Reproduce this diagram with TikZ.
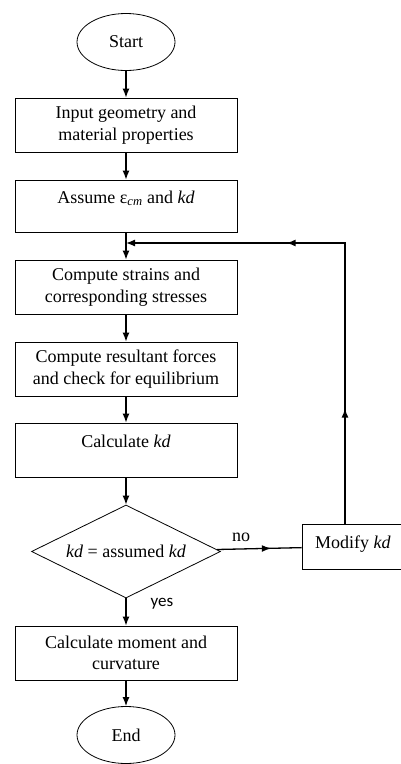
\documentclass[tikz,border=0pt]{standalone}
\usepackage{fontspec}
\setmainfont{Liberation Serif}
\newfontfamily\answerfont{Carlito}
\usetikzlibrary{arrows.meta,shapes.geometric,decorations.markings}
\tikzset{>={Latex[length=9pt,width=7pt]}}

\begin{document}
\begin{tikzpicture}[x=1pt,y=-1pt,
   every node/.style={font=\fontsize{18}{21.5}\selectfont},
   box/.style={draw,line width=0.8pt,minimum width=222pt,minimum height=54pt,align=center,inner sep=2pt},
   topbox/.style={box,text height=12pt,text depth=18pt},
   term/.style={draw,ellipse,line width=0.8pt,minimum width=98pt,minimum height=57pt,inner sep=0pt},
   test/.style={draw,diamond,aspect=2,line width=0.8pt,minimum width=189pt,minimum height=93pt,inner sep=0pt},
   flow/.style={->,line width=1.3pt},
   midarrow/.style={postaction=decorate,decoration={markings,mark=at position #1 with {\arrow{>}}}},
   looparrows/.style={postaction=decorate,decoration={markings,
      mark=at position 115pt with {\arrow{>}},
      mark=at position 339pt with {\arrow{>}}}},
]
\useasboundingbox (0,0) rectangle (401,764);

\node[term] (start) at (126,42) {Start};
\node[box] (input) at (126,125) {Input geometry and\\material properties};
\node[topbox,minimum height=52pt] (assume) at (126,206) {Assume ε\textsubscript{\textit{cm}} and \textit{kd}};
\node[box] (strain) at (126,287) {Compute strains and\\corresponding stresses};
\node[box] (force) at (126,369) {Compute resultant forces\\and check for equilibrium};
\node[topbox] (calc) at (126,450) {Calculate \textit{kd}};
\node[test] (check) at (126,551.5) {\textit{kd} = assumed \textit{kd}};
\node[box] (moment) at (126,653) {Calculate moment and\\curvature};
\node[term] (end) at (126,735) {End};
\node[draw,line width=0.8pt,minimum width=102pt,minimum height=45pt,
      text height=12pt,text depth=9pt] (modify) at (353,546.5) {Modify \textit{kd}};
\coordinate (join) at (126,243);

\node (no) at (241,537) {no};
\node[font=\answerfont\fontsize{17}{20}\selectfont] (yes) at (162,604) {yes};

\draw[flow] (start) -- (input);
\draw[flow] (input) -- (assume);
\draw[flow] (assume) -- (strain);
\draw[flow] (strain) -- (force);
\draw[flow] (force) -- (calc);
\draw[flow] (calc) -- (check);
\draw[flow] (check) -- (moment);
\draw[flow] (moment) -- (end);
\draw[line width=1.3pt,midarrow=54pt] (check) -- (modify);
\draw[flow,looparrows] ([xshift=-8pt]modify.north) |- (join);
\end{tikzpicture}
\end{document}
